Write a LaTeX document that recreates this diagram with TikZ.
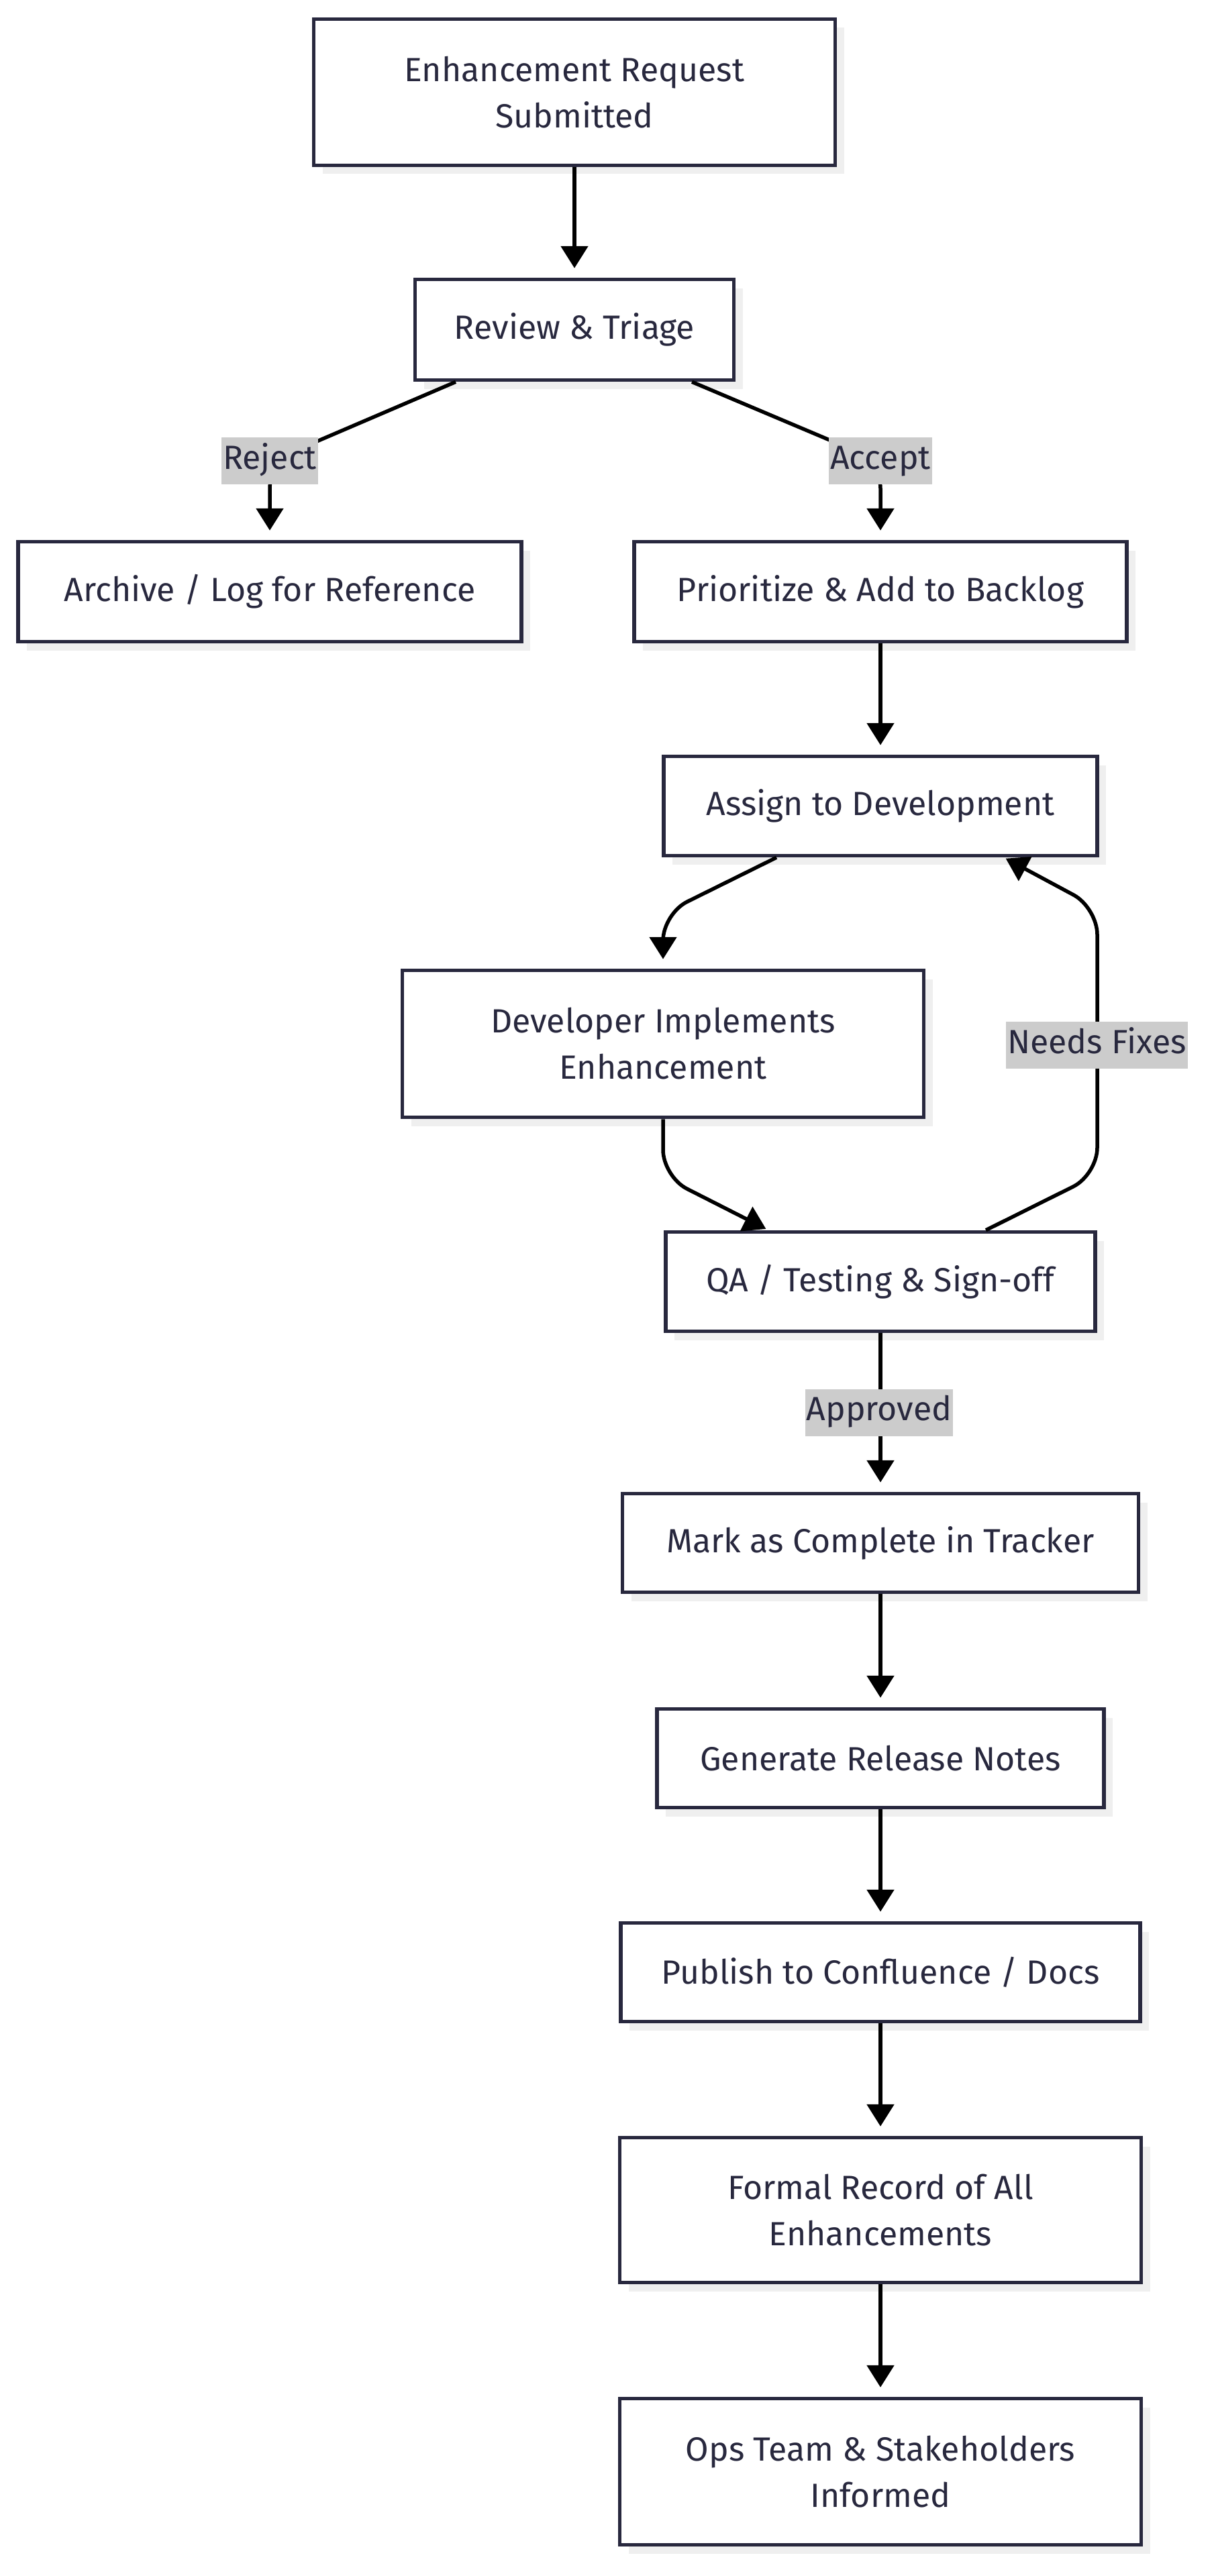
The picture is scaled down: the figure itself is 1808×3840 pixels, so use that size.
\documentclass[tikz,border=0pt]{standalone}
\usepackage{fontspec}
\setmainfont{Fira Sans}
\usetikzlibrary{arrows.meta,shadows,calc}
\definecolor{ink}{RGB}{40,40,62}
\definecolor{shade}{RGB}{239,239,239}
\definecolor{lblbg}{RGB}{204,204,204}
\tikzset{
  box/.style={draw=ink, line width=5.5pt, fill=white, text=ink, align=center,
    font=\fontsize{50}{69}\selectfont, inner sep=0pt,
    drop shadow={shadow xshift=13pt, shadow yshift=-13pt, fill=shade, opacity=1}},
  lbl/.style={fill=lblbg, text=ink, font=\fontsize{50}{69}\selectfont,
    inner xsep=2pt, inner ysep=0pt, text height=35pt, text depth=11pt, minimum height=70pt},
  edge/.style={draw=black, line width=5.5pt, -{Triangle[width=40pt,length=33pt]},
    rounded corners=40pt},
}
\begin{document}
\begin{tikzpicture}[x=1pt,y=-1pt]
\useasboundingbox (0,0) rectangle (1808,3840);
\fill[white] (0,0) rectangle (1808,3840);
% nodes
\node[box, minimum width=777pt, minimum height=218pt] (req) at (856,137.5) {Enhancement Request\\Submitted};
\node[box, minimum width=475pt, minimum height=150pt] (review) at (856,491.5) {Review \& Triage};
\node[box, minimum width=750pt, minimum height=149pt] (archive) at (402,882) {Archive / Log for Reference};
\node[box, minimum width=734pt, minimum height=149pt] (prio) at (1312,882) {Prioritize \& Add to Backlog};
\node[box, minimum width=646pt, minimum height=148pt] (assign) at (1312,1201.5) {Assign to Development};
\node[box, minimum width=777pt, minimum height=219pt] (dev) at (988,1556) {Developer Implements\\Enhancement};
\node[box, minimum width=640pt, minimum height=148pt] (qa) at (1312,1910.5) {QA / Testing \& Sign-off};
\node[box, minimum width=769pt, minimum height=147pt] (mark) at (1312,2300) {Mark as Complete in Tracker};
\node[box, minimum width=666pt, minimum height=147pt] (gen) at (1312,2621) {Generate Release Notes};
\node[box, minimum width=774pt, minimum height=147pt] (pub) at (1312,2940) {Publish to Confluence / Docs};
\node[box, minimum width=777pt, minimum height=216pt] (formal) at (1312,3294.5) {Formal Record of All\\Enhancements};
\node[box, minimum width=777pt, minimum height=218pt] (ops) at (1312,3684.5) {Ops Team \& Stakeholders\\Informed};
% bend coordinates
\coordinate (rjbend) at (402,688);
\coordinate (acbend) at (1312,688);
\coordinate (adbend) at (988,1362);
\coordinate (dqbend) at (988,1754);
\coordinate (nfbendA) at (1635,1751);
\coordinate (nfbendB) at (1635,1353);
% edges
\draw[edge, shorten >=14pt] (req.south) -- (review.north);
\draw[edge, shorten >=14pt] ([xshift=-177pt]review.south) -- (rjbend) -- (archive.north);
\draw[edge, shorten >=14pt] ([xshift=175pt]review.south) -- (acbend) -- (prio.north);
\draw[edge, shorten >=14pt] (prio.south) -- (assign.north);
\draw[edge, shorten >=14pt] ([xshift=-155pt]assign.south) -- (adbend) -- (dev.north);
\draw[edge, shorten >=4pt] (dev.south) -- (dqbend) -- ([xshift=-167pt]qa.north);
\draw[edge, shorten >=3pt] ([xshift=157pt]qa.north) -- (nfbendA) -- (nfbendB) -- ([xshift=184pt]assign.south);
\draw[edge, shorten >=14pt] (qa.south) -- (mark.north);
\draw[edge, shorten >=14pt] (mark.south) -- (gen.north);
\draw[edge, shorten >=14pt] (gen.south) -- (pub.north);
\draw[edge, shorten >=14pt] (pub.south) -- (formal.north);
\draw[edge, shorten >=14pt] (formal.south) -- (ops.north);
% labels
\node[lbl] (rejectlbl) at (402,687) {Reject};
\node[lbl] (acceptlbl) at (1312,687) {Accept};
\node[lbl] (fixlbl) at (1634.5,1558) {Needs Fixes};
\node[lbl] (apprlbl) at (1310,2105.5) {Approved};
\end{tikzpicture}
\end{document}
